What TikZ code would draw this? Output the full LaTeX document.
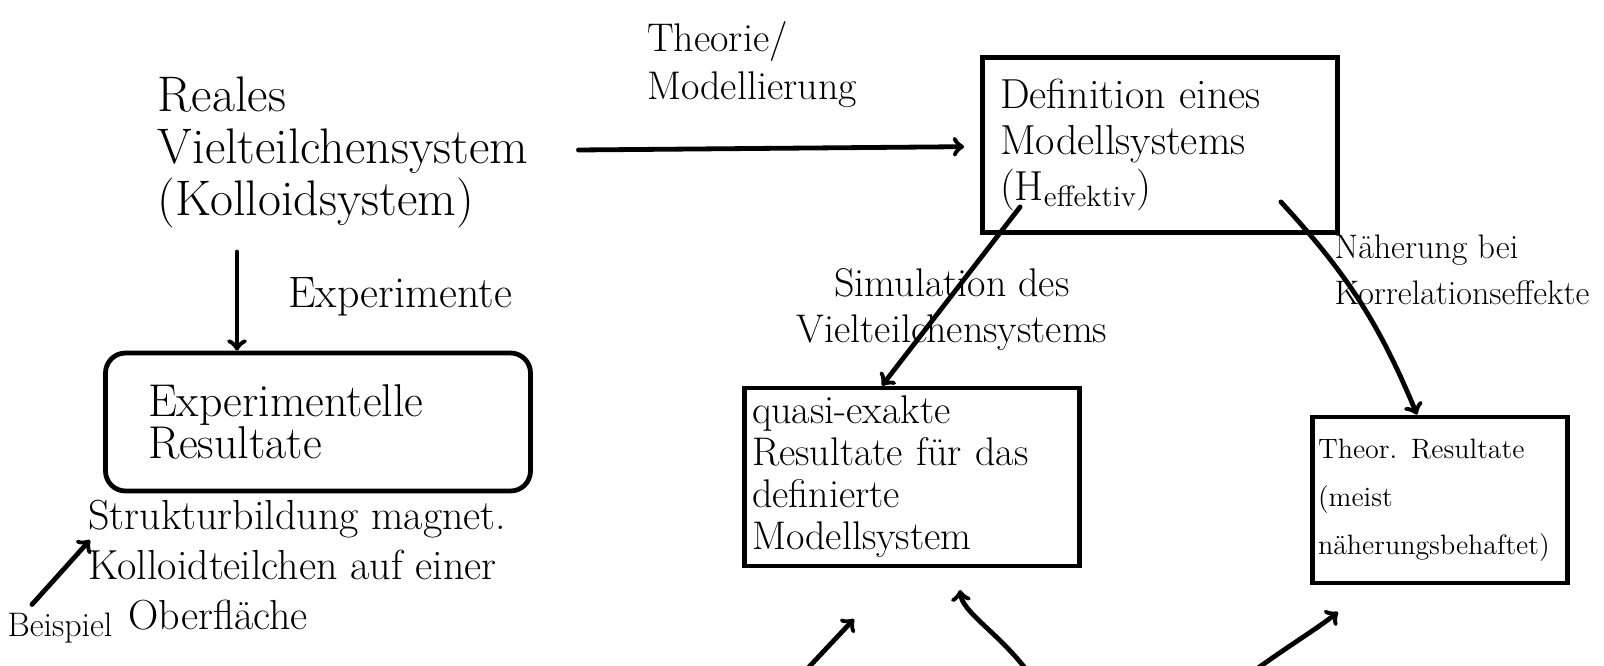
\documentclass[tikz,border=0pt]{standalone}
\usepackage{tikz}
\usetikzlibrary{positioning}

\begin{document}
\begin{tikzpicture}[x=0.5pt,y=-0.5pt,
    txt/.style={align=left,inner sep=0pt},
    box/.style={draw,rectangle,line width=2.4pt,inner sep=0pt,align=left},
    pen/.style={->,line width=2.4pt,line cap=round}]
    \useasboundingbox (0,0) rectangle (1604,665);

    \node [txt,font=\fontsize{25}{26}\selectfont](a)at(343,152){Reales\\Vielteilchensystem\\(Kolloidsystem)};
    \node [txt,font=\fontsize{20}{24}\selectfont](b)at(752,65){Theorie/\\Modellierung};
    \node [box,minimum width=177.5pt,minimum height=87.5pt,text width=160pt,font=\fontsize{21}{23}\selectfont](c)at(1160,145){Definition eines\\Modellsystems\\(H\textsubscript{effektiv})};
    \node [txt,font=\fontsize{22}{24}\selectfont](d)at(400,297){Experimente};
    \node [box,rounded corners=10pt,minimum width=212.5pt,minimum height=69pt,text width=170pt,font=\fontsize{23}{21}\selectfont](i)at(318,422){Experimentelle\\Resultate};
    \node [txt,anchor=north west,font=\fontsize{21}{25}\selectfont](g)at(88,500){Strukturbildung magnet.\\Kolloidteilchen auf einer\\\hspace*{20pt}Oberfläche};
    \node [txt,font=\fontsize{17}{20}\selectfont](h)at(60,628){Beispiel};
    \node [txt,align=center,font=\fontsize{20}{23}\selectfont](e)at(952,310){Simulation des\\Vielteilchensystems};
    \node [txt,font=\fontsize{17}{23}\selectfont](f)at(1462,270){Näherung bei\\Korrelationseffekte};
    \node [box,minimum width=167.5pt,minimum height=89pt,text width=160pt,font=\fontsize{20}{21}\selectfont](j)at(912,477){quasi-exakte\\Resultate für das\\definierte\\Modellsystem};
    \node [box,minimum width=127.5pt,minimum height=83pt,text width=122pt,font=\fontsize{14}{24}\selectfont](k)at(1440,500){Theor. Resultate\\(meist\\näherungsbehaftet)};

    \coordinate (p1)at(808,668);
    \coordinate (q1)at(854,619);
    \coordinate (p2)at(1025,668);
    \coordinate (q2)at(960,590);
    \coordinate (p3)at(1258,668);
    \coordinate (q3)at(1338,612);

    \draw [pen,shorten <=25pt,shorten >=8pt](a)--(c);
    \draw [pen]([xshift=-53pt,yshift=-12pt]a.south)--([xshift=-40.5pt]i.north);
    \draw [pen]([shift={(20pt,14pt)}]c.south west)--([xshift=-15pt]j.north);
    \draw [pen]([shift={(-29.5pt,16.5pt)}]c.south east) to[bend left=10] ([xshift=-11.5pt]k.north);
    \draw [pen]([xshift=-14pt,yshift=4pt]h.north)--([xshift=1pt,yshift=-20pt]g.north west);
    \draw [pen](p1)--(q1);
    \draw [pen](p2) .. controls (995,630) and (962,612) .. (q2);
    \draw [pen](p3) .. controls (1290,645) and (1318,628) .. (q3);
\end{tikzpicture}
\end{document}
